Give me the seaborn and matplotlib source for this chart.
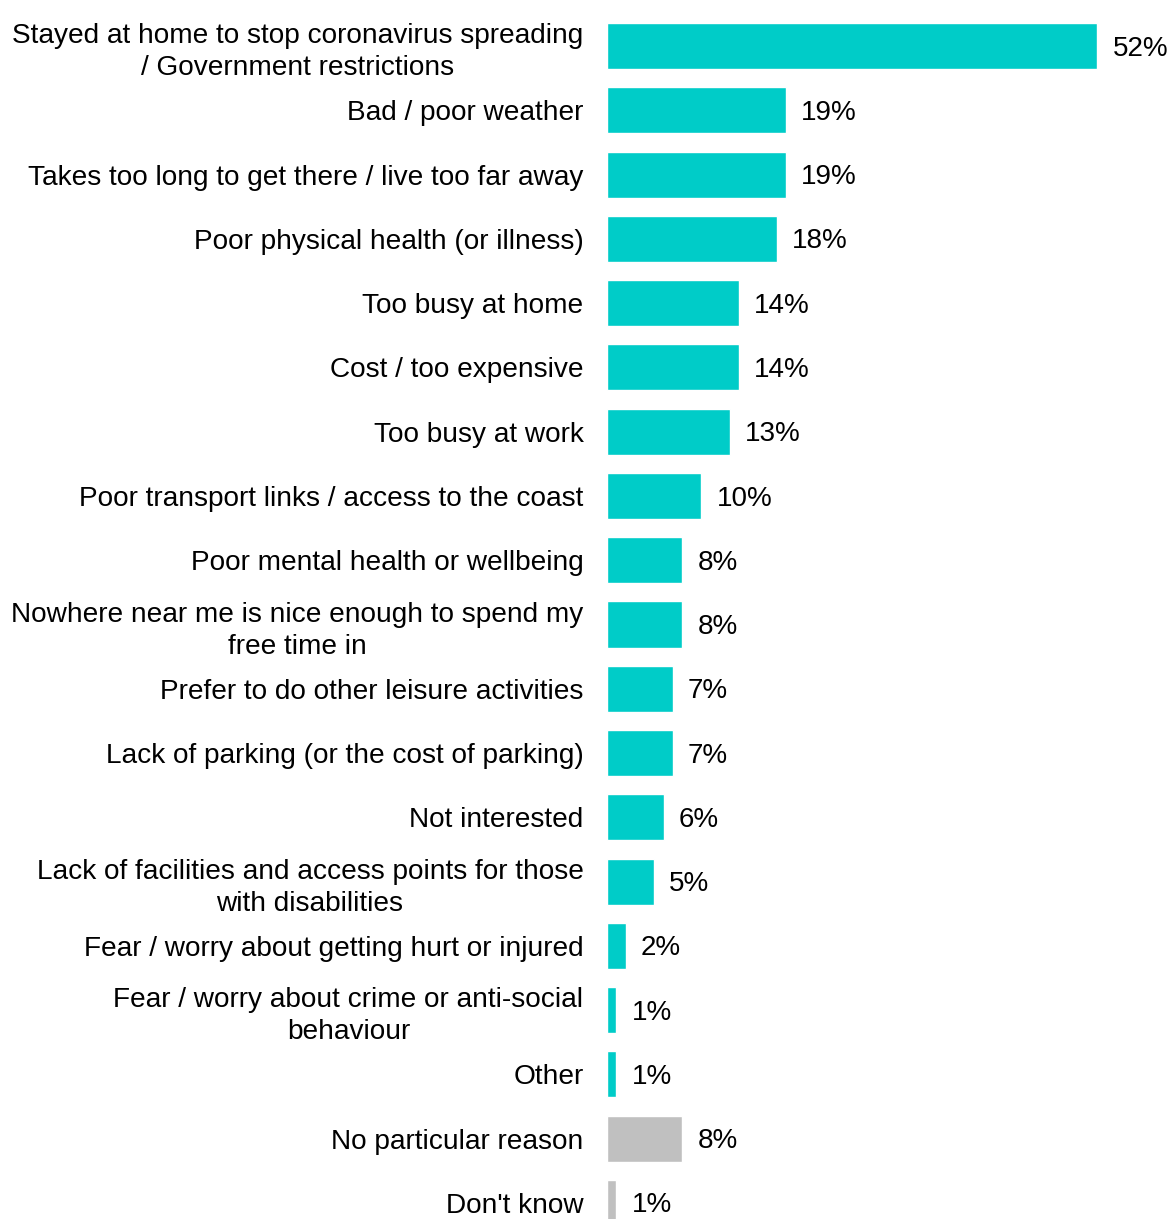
import matplotlib
matplotlib.use("Agg")
import matplotlib.pyplot as plt
import seaborn as sns
import pandas as pd

categories = [
    "Stayed at home to stop coronavirus spreading\n/ Government restrictions",
    "Bad / poor weather",
    "Takes too long to get there / live too far away",
    "Poor physical health (or illness)",
    "Too busy at home",
    "Cost / too expensive",
    "Too busy at work",
    "Poor transport links / access to the coast",
    "Poor mental health or wellbeing",
    "Nowhere near me is nice enough to spend my\nfree time in",
    "Prefer to do other leisure activities",
    "Lack of parking (or the cost of parking)",
    "Not interested",
    "Lack of facilities and access points for those\nwith disabilities",
    "Fear / worry about getting hurt or injured",
    "Fear / worry about crime or anti-social\nbehaviour",
    "Other",
    "No particular reason",
    "Don't know",
]
values = [52, 19, 19, 18, 14, 14, 13, 10, 8, 8, 7, 7, 6, 5, 2, 1, 1, 8, 1]
groups = ["reason"] * 17 + ["none"] * 2

palette = {"reason": "#00CCC8", "none": "#C0C0C0"}

df = pd.DataFrame({"category": categories, "value": values, "group": groups})

sns.set_theme(style="white")
plt.rcParams["font.family"] = ["Liberation Sans", "DejaVu Sans"]

fig = plt.figure(figsize=(11.69, 12.19), dpi=100)
ax = fig.add_axes([607 / 1169, -16 / 1219, 562 / 1169, 1221 / 1219])

sns.barplot(data=df, x="value", y="category", hue="group", palette=palette,
            dodge=False, width=0.716, legend=False, ax=ax, saturation=1)

for i, v in enumerate(values):
    ax.text(v + 1.6, i + 0.04, f"{v}%", va="center", ha="left", fontsize=20,
            color="#000000")

ax.set_xlim(0, 59.6)
ax.set_ylim(len(categories) - 0.5, -0.5)
ax.set_xlabel("")
ax.set_ylabel("")
ax.set_xticks([])
ax.tick_params(axis="y", length=0, pad=17, labelsize=20.2, labelcolor="#000000")
for lab in ax.get_yticklabels():
    lab.set_multialignment("center")
    lab.set_linespacing(1.3)
for s in ax.spines.values():
    s.set_visible(False)

fig.savefig("out.png", dpi=100)
